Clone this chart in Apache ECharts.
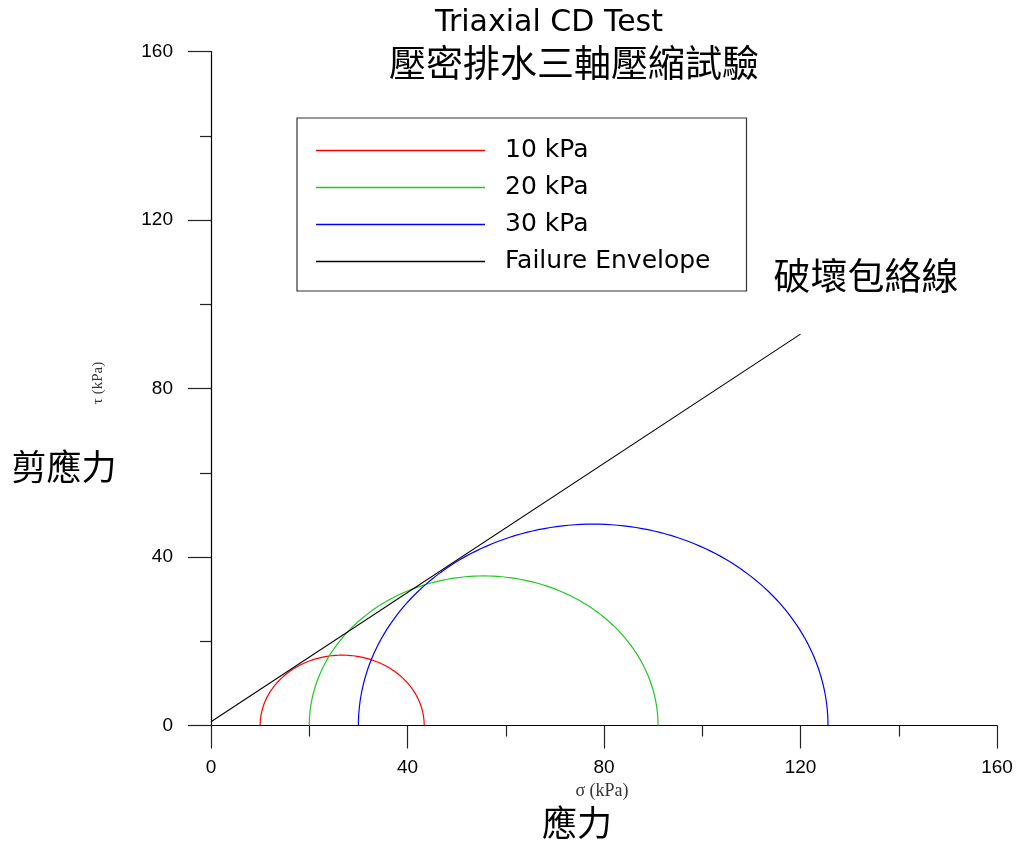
<!DOCTYPE html>
<html>
<head>
<meta charset="utf-8">
<title>Triaxial CD Test</title>
<script src="https://cdn.jsdelivr.net/npm/echarts@6/dist/echarts.min.js"></script>
<style>
  html, body { margin: 0; padding: 0; background: #fff; }
  #chart { width: 1022px; height: 845px; }
</style>
</head>
<body>
<div id="chart"></div>
<script>
// Mohr circles from consolidated-drained triaxial tests: [sigma3, sigma1] in kPa
const confiningLabels = ['10 kPa', '20 kPa', '30 kPa'];
const sigma3 = [10, 20, 30];
const sigma1 = [43.4, 91.0, 125.6];
const circleColors = ['#ff0000', '#22c822', '#0000ff'];

// Failure envelope end points [sigma, tau]
const envelopeSigma = [0, 120];
const envelopeTau = [0.9, 92.9];
const envelopeName = 'Failure Envelope';

// Axis ticks
const axisMin = 0;
const axisMax = 160;
const axisStep = 40;

const chart = echarts.init(document.getElementById('chart'));

// Draws a half Mohr circle between sigma3 and sigma1 through the axis scales
function mohrRender(params, api) {
  const s3 = api.value(0);
  const s1 = api.value(1);
  const c = (s1 + s3) / 2;
  const r = (s1 - s3) / 2;
  const pts = [];
  const steps = 120;
  for (let i = 0; i <= steps; i++) {
    const t = Math.PI * i / steps;
    pts.push(api.coord([c - r * Math.cos(t), r * Math.sin(t)]));
  }
  return {
    type: 'polyline',
    shape: { points: pts },
    style: { stroke: api.visual('color'), fill: null, lineWidth: 1.2 }
  };
}

const series = confiningLabels.map((name, i) => ({
  name: name,
  type: 'custom',
  renderItem: mohrRender,
  itemStyle: { color: circleColors[i] },
  data: [[sigma3[i], sigma1[i]]],
  encode: { x: [0, 1], y: [] },
  silent: true,
  z: 3
}));

series.push({
  name: envelopeName,
  type: 'line',
  data: envelopeSigma.map((s, i) => [s, envelopeTau[i]]),
  showSymbol: false,
  lineStyle: { color: '#000', width: 1.1 },
  itemStyle: { color: '#000' },
  silent: true,
  z: 4
});

const axisCommon = {
  type: 'value',
  min: axisMin,
  max: axisMax,
  interval: axisStep,
  axisLine: { show: true, onZero: false, lineStyle: { color: '#000', width: 1.2 } },
  axisTick: { show: true, inside: false, length: 23, lineStyle: { color: '#222', width: 1.2 } },
  minorTick: { show: true, splitNumber: 2, length: 11, lineStyle: { color: '#222', width: 1.2 } },
  splitLine: { show: false },
  minorSplitLine: { show: false },
  axisLabel: { color: '#000', fontFamily: 'Liberation Sans, Arial, sans-serif', fontSize: 19 }
};

const legendItems = confiningLabels.map((name, i) => ({
  name: name,
  icon: 'rect',
  itemStyle: { color: circleColors[i] }
}));
legendItems.push({ name: envelopeName, icon: 'rect', itemStyle: { color: '#000' } });

const cjkFont = '"Noto Sans CJK TC", "Noto Sans CJK SC", sans-serif';

chart.setOption({
  animation: false,
  backgroundColor: '#fff',
  grid: { left: 211, right: 25, top: 51.5, bottom: 119.5, containLabel: false },
  xAxis: Object.assign({}, axisCommon, {
    axisLabel: Object.assign({}, axisCommon.axisLabel, { margin: 33 })
  }),
  yAxis: Object.assign({}, axisCommon, {
    axisLabel: Object.assign({}, axisCommon.axisLabel, { margin: 38 })
  }),
  legend: {
    orient: 'vertical',
    left: 297,
    top: 118,
    data: legendItems,
    selectedMode: false,
    itemWidth: 169,
    itemHeight: 1.5,
    itemGap: 12,
    padding: [20, 36, 17, 19],
    borderColor: '#333',
    borderWidth: 1.2,
    textStyle: {
      color: '#000',
      fontFamily: 'DejaVu Sans, sans-serif',
      fontSize: 25,
      lineHeight: 22,
      padding: [0, 0, 0, 15]
    }
  },
  graphic: [
    {
      type: 'text', silent: true,
      style: { x: 549, y: 23, text: 'Triaxial CD Test', align: 'center', verticalAlign: 'middle',
        fontFamily: 'DejaVu Sans, sans-serif', fontSize: 30, fill: '#000' }
    },
    {
      type: 'text', silent: true,
      style: { x: 574, y: 63, text: '壓密排水三軸壓縮試驗', align: 'center', verticalAlign: 'middle',
        fontFamily: cjkFont, fontSize: 37, fill: '#000' }
    },
    {
      type: 'text', silent: true,
      style: { x: 866, y: 276, text: '破壞包絡線', align: 'center', verticalAlign: 'middle',
        fontFamily: cjkFont, fontSize: 37, fill: '#000' }
    },
    {
      type: 'text', silent: true,
      style: { x: 64, y: 467, text: '剪應力', align: 'center', verticalAlign: 'middle',
        fontFamily: cjkFont, fontSize: 35, fill: '#000' }
    },
    {
      type: 'text', silent: true,
      style: { x: 577, y: 823, text: '應力', align: 'center', verticalAlign: 'middle',
        fontFamily: cjkFont, fontSize: 35, fill: '#000' }
    },
    {
      type: 'text', silent: true,
      style: { x: 602, y: 791, text: 'σ (kPa)', align: 'center', verticalAlign: 'middle',
        fontFamily: 'Liberation Serif, serif', fontSize: 18, fill: '#333' }
    },
    {
      type: 'text', silent: true,
      x: 98, y: 383, rotation: Math.PI / 2,
      style: { x: 0, y: 0, text: 'τ (kPa)', align: 'center', verticalAlign: 'middle',
        fontFamily: 'Liberation Serif, serif', fontSize: 15, fill: '#333' }
    }
  ],
  series: series
});
</script>
</body>
</html>
